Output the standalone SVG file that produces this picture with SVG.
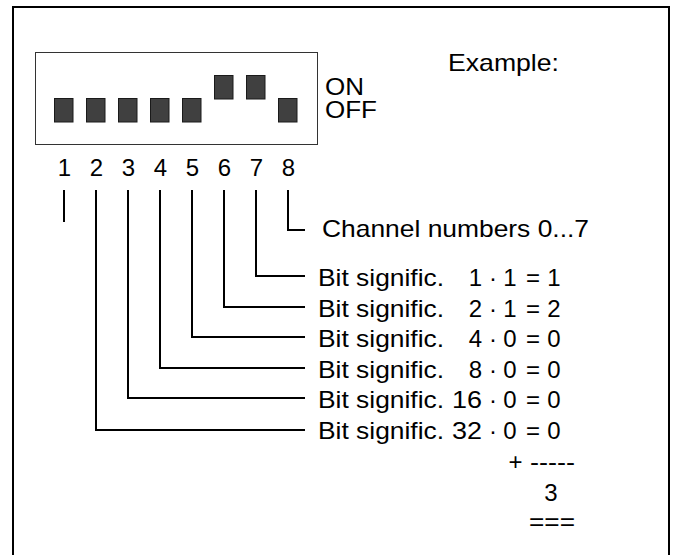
<svg xmlns="http://www.w3.org/2000/svg" width="677" height="555" viewBox="0 0 677 555">
<style>
text{font-family:"Liberation Sans",Arial,sans-serif;font-size:24px;fill:#000}
.m{text-anchor:middle}
.e{text-anchor:end}
.sw{fill:#404040;stroke:#1a1a1a;stroke-width:1}
.ln{fill:none;stroke:#000;stroke-width:2}
</style>
<rect width="677" height="555" fill="#fff"/>
<path d="M13,555 V7 H669 V555" fill="none" stroke="#000" stroke-width="2"/>
<g id="switch">
<rect x="35.5" y="52.5" width="282" height="92" fill="#fff" stroke="#333" stroke-width="1"/>
<rect class="sw" x="54.5" y="98.5" width="18.5" height="23.5"/>
<rect class="sw" x="86.5" y="98.5" width="18.5" height="23.5"/>
<rect class="sw" x="118.5" y="98.5" width="18.5" height="23.5"/>
<rect class="sw" x="150.5" y="98.5" width="18.5" height="23.5"/>
<rect class="sw" x="182.5" y="98.5" width="18.5" height="23.5"/>
<rect class="sw" x="214.5" y="75.5" width="18.5" height="23.5"/>
<rect class="sw" x="246.5" y="75.5" width="18.5" height="23.5"/>
<rect class="sw" x="278.5" y="98.5" width="18.5" height="23.5"/>
</g>
<g id="onoff">
<text x="325" y="95" textLength="39" lengthAdjust="spacingAndGlyphs">ON</text>
<text x="325" y="117.5" textLength="52" lengthAdjust="spacingAndGlyphs">OFF</text>
</g>
<g id="example">
<text x="448" y="70.7" textLength="111" lengthAdjust="spacingAndGlyphs">Example:</text>
</g>
<g id="pins">
<text class="m" x="64.5" y="176">1</text>
<text class="m" x="96.5" y="176">2</text>
<text class="m" x="128.5" y="176">3</text>
<text class="m" x="160.5" y="176">4</text>
<text class="m" x="192.5" y="176">5</text>
<text class="m" x="224.5" y="176">6</text>
<text class="m" x="256.5" y="176">7</text>
<text class="m" x="288.5" y="176">8</text>
</g>
<g id="connectors">
<path class="ln" d="M64,190 V222"/>
<path class="ln" d="M96,190 V430 H305"/>
<path class="ln" d="M128,190 V398 H305"/>
<path class="ln" d="M160,190 V368 H305"/>
<path class="ln" d="M192,190 V337 H305"/>
<path class="ln" d="M224,190 V307 H305"/>
<path class="ln" d="M256,190 V276 H305"/>
<path class="ln" d="M288,190 V230 H305"/>
</g>
<g id="channel">
<text x="322" y="237.3" textLength="267" lengthAdjust="spacingAndGlyphs">Channel numbers 0...7</text>
</g>
<g id="bit1">
<text x="318" y="286" textLength="126" lengthAdjust="spacingAndGlyphs">Bit signific.</text>
<text class="e" x="482" y="286">1</text><text class="m" x="493" y="286">·</text><text class="m" x="510" y="286">1</text><text class="m" x="533" y="286">=</text><text class="m" x="554" y="286">1</text>
</g>
<g id="bit2">
<text x="318" y="316.5" textLength="126" lengthAdjust="spacingAndGlyphs">Bit signific.</text>
<text class="e" x="482" y="316.5">2</text><text class="m" x="493" y="316.5">·</text><text class="m" x="510" y="316.5">1</text><text class="m" x="533" y="316.5">=</text><text class="m" x="554" y="316.5">2</text>
</g>
<g id="bit4">
<text x="318" y="347" textLength="126" lengthAdjust="spacingAndGlyphs">Bit signific.</text>
<text class="e" x="482" y="347">4</text><text class="m" x="493" y="347">·</text><text class="m" x="510" y="347">0</text><text class="m" x="533" y="347">=</text><text class="m" x="554" y="347">0</text>
</g>
<g id="bit8">
<text x="318" y="377.5" textLength="126" lengthAdjust="spacingAndGlyphs">Bit signific.</text>
<text class="e" x="482" y="377.5">8</text><text class="m" x="493" y="377.5">·</text><text class="m" x="510" y="377.5">0</text><text class="m" x="533" y="377.5">=</text><text class="m" x="554" y="377.5">0</text>
</g>
<g id="bit16">
<text x="318" y="408" textLength="126" lengthAdjust="spacingAndGlyphs">Bit signific.</text>
<text class="e" x="482" y="408" textLength="30" lengthAdjust="spacingAndGlyphs">16</text><text class="m" x="493" y="408">·</text><text class="m" x="510" y="408">0</text><text class="m" x="533" y="408">=</text><text class="m" x="554" y="408">0</text>
</g>
<g id="bit32">
<text x="318" y="438.5" textLength="126" lengthAdjust="spacingAndGlyphs">Bit signific.</text>
<text class="e" x="482" y="438.5" textLength="30" lengthAdjust="spacingAndGlyphs">32</text><text class="m" x="493" y="438.5">·</text><text class="m" x="510" y="438.5">0</text><text class="m" x="533" y="438.5">=</text><text class="m" x="554" y="438.5">0</text>
</g>
<g id="sum">
<text class="m" x="515.5" y="470">+</text>
<text x="530" y="470" textLength="45" lengthAdjust="spacingAndGlyphs">-----</text>
<text class="m" x="551" y="500.5">3</text>
<text x="529" y="529.5" textLength="46" lengthAdjust="spacingAndGlyphs">===</text>
</g>
</svg>
